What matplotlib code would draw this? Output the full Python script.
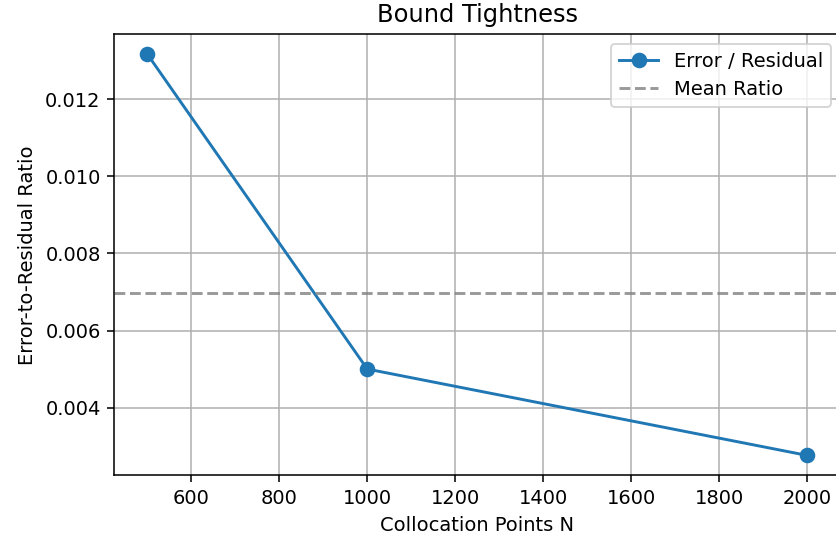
import numpy as np
import matplotlib
matplotlib.use('Agg')
import matplotlib.pyplot as plt

# collocation points and error / residual ratio
n_points = [500, 1000, 2000]
ratio = [0.01317, 0.0050, 0.00276]
mean_ratio = np.mean(ratio)

fig = plt.figure(figsize=(836 / 140, 541 / 140), dpi=140)
ax = fig.add_axes([0.1367, 0.1211, 0.8684, 0.816])

ax.plot(n_points, ratio, marker='o', markersize=7, color='tab:blue', label='Error / Residual')
ax.axhline(mean_ratio, color='gray', linestyle='--', alpha=0.8, label='Mean Ratio')
ax.set_title('Bound Tightness', fontsize=12.4)
ax.set_xlabel('Collocation Points N')
ax.set_ylabel('Error-to-Residual Ratio')
ax.grid(True)
ax.legend(loc='upper right')

fig.savefig('out.png', dpi=140)
